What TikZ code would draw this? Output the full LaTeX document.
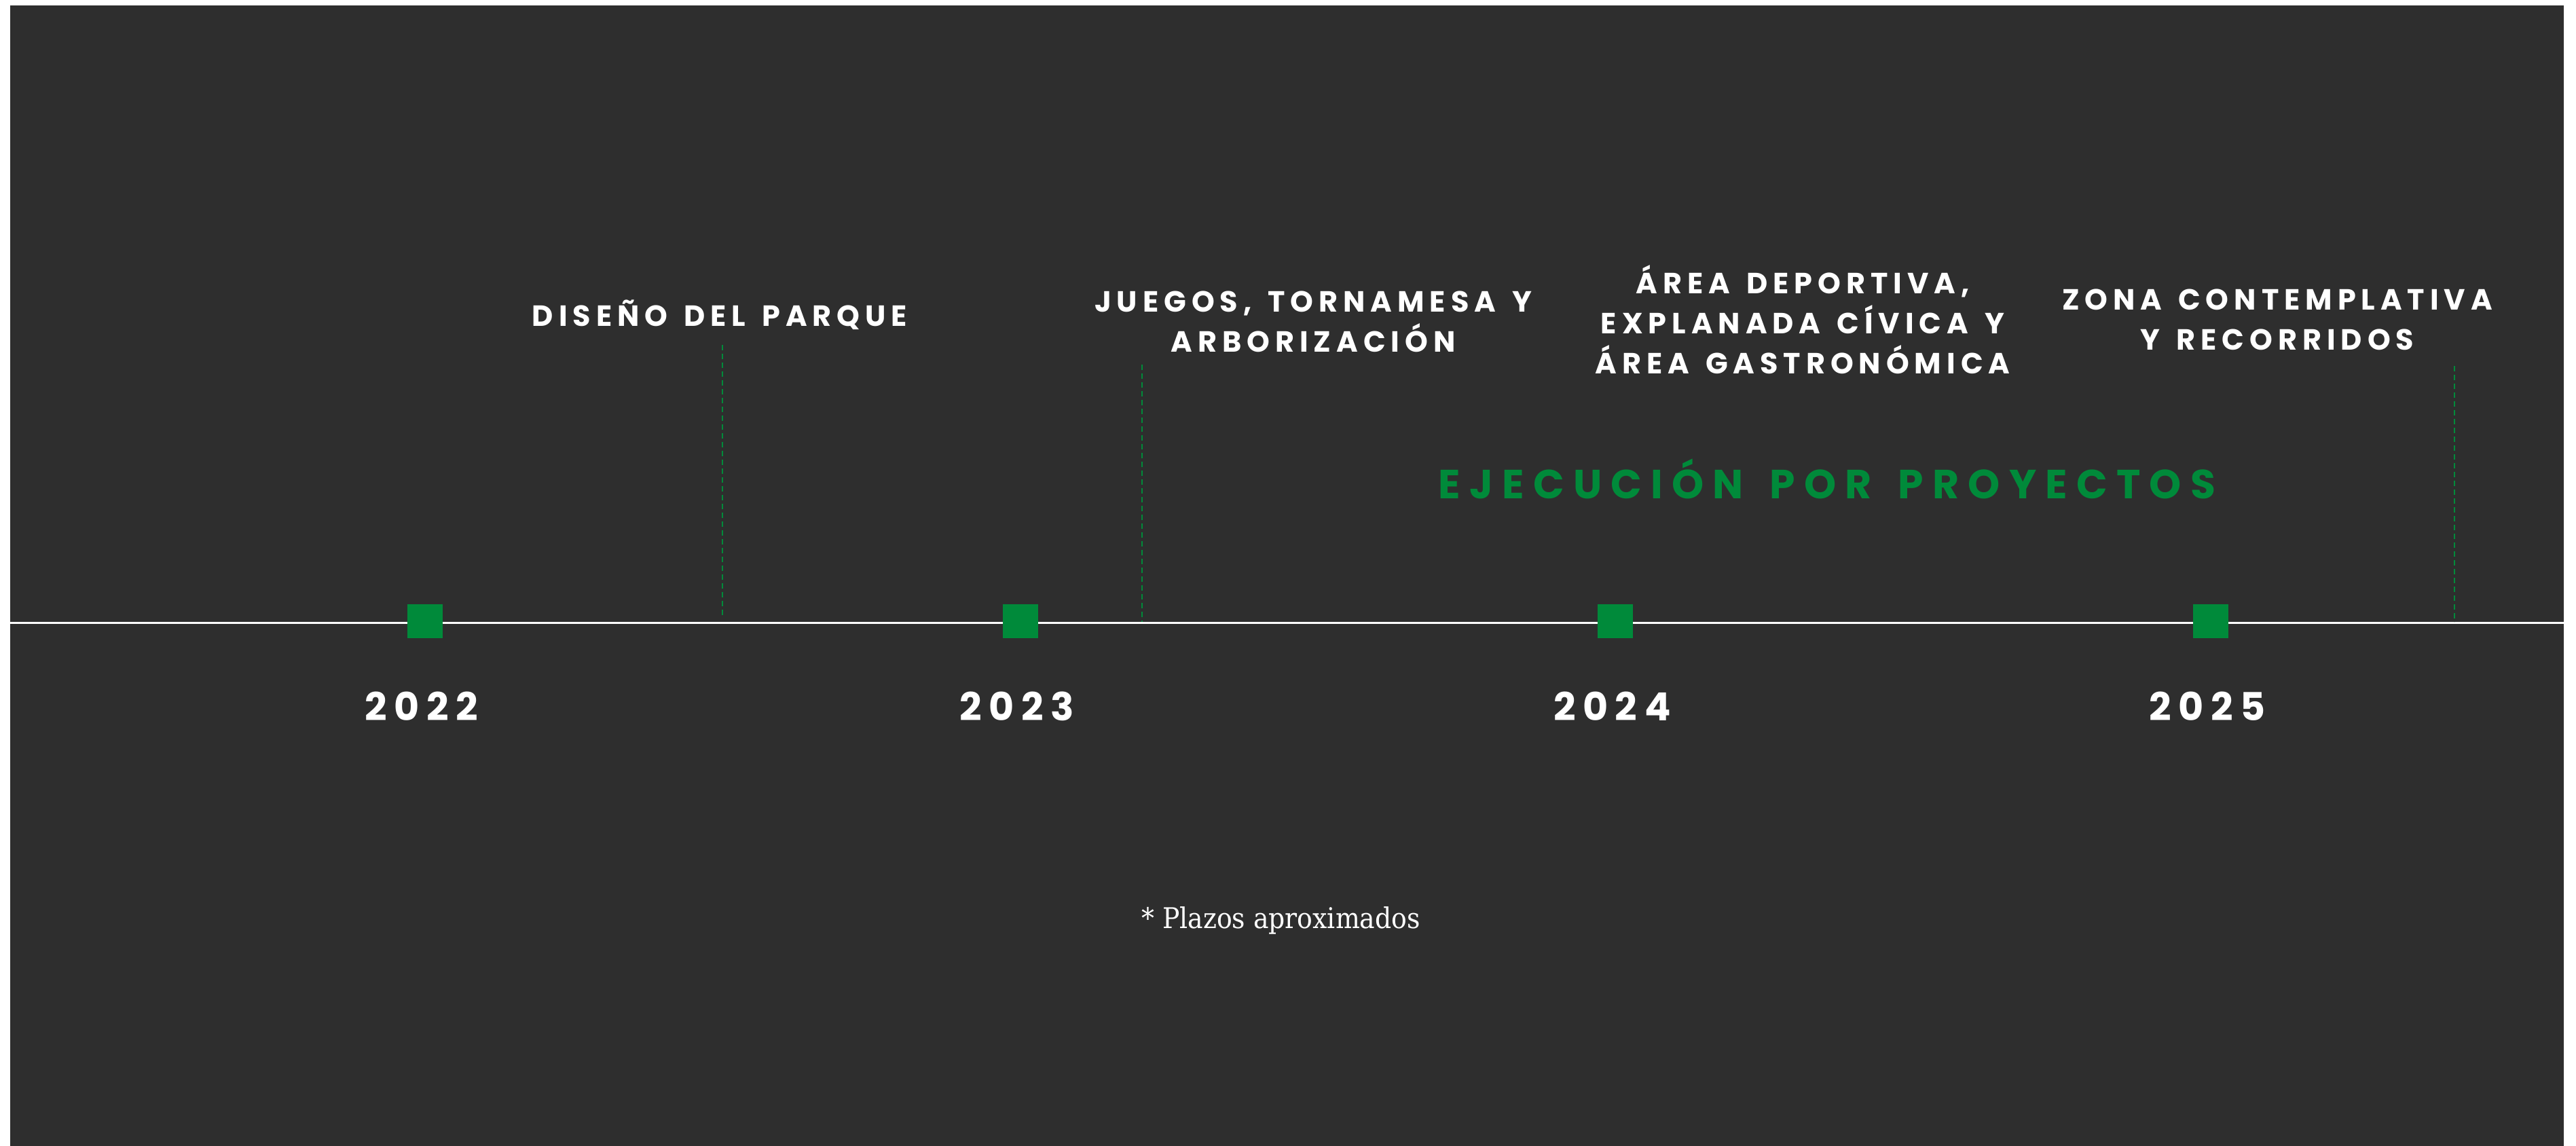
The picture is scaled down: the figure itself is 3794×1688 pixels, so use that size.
\documentclass[tikz,border=0pt]{standalone}
\usepackage{fontspec}
\setmainfont{Poppins}
\newfontfamily\headfont{Poppins}[LetterSpace=18.5,WordSpace=1.4]
\newfontfamily\titlefont{Poppins}[LetterSpace=22,WordSpace=1.5]
\newfontfamily\notefont{DejaVu Serif Condensed}
\usetikzlibrary{positioning}
\definecolor{fondo}{HTML}{2E2E2E}
\definecolor{verde}{HTML}{008A3A}

\tikzset{
	hito/.style={fill=verde, minimum width=52pt, minimum height=50pt, inner sep=0pt},
	anio/.style={text=white, inner sep=0pt, xshift=-5pt, font=\headfont\bfseries\fontsize{57}{57}\selectfont},
	etapa/.style={text=white, inner sep=0pt, align=center, anchor=base, font=\headfont\bfseries\fontsize{43}{59}\selectfont},
	titulo/.style={text=verde, inner sep=0pt, anchor=base, font=\titlefont\bfseries\fontsize{60}{60}\selectfont},
	nota/.style={text=white, inner sep=0pt, anchor=base west, font=\notefont\fontsize{42}{42}\selectfont},
	guia/.style={verde, line width=2pt, dash pattern=on 8pt off 5pt},
	eje/.style={white, line width=3pt}
}

\begin{document}
\begin{tikzpicture}[x=1pt, y=-1pt, node distance=876.7pt]
		\useasboundingbox (0,0) rectangle (3794,1688);
		\fill[fondo] (15,8) rectangle (3776,1688);

		\coordinate (ini) at (15,917);
		\coordinate (fin) at (3776,917);
		\draw[eje] (ini) -- (fin);

		% hitos sobre la linea
		\node[hito]               (h22) at (626,915) {};
		\node[hito,right of=h22]  (h23) {};
		\node[hito,right of=h23]  (h24) {};
		\node[hito,right of=h24]  (h25) {};

		% anios
		\node[anio,below of=h22,node distance=125pt] (a22) {2022};
		\node[anio,below of=h23,node distance=125pt] (a23) {2023};
		\node[anio,below of=h24,node distance=125pt] (a24) {2024};
		\node[anio,below of=h25,node distance=125pt] (a25) {2025};

		% etapas (base = ultima linea)
		\node[etapa] (diseno) at (1060,480) {DISEÑO DEL PARQUE};
		\node[etapa] (juegos) at (1934,518) {JUEGOS, TORNAMESA Y\\ARBORIZACIÓN};
		\node[etapa] (area)   at (2655,550) {ÁREA DEPORTIVA,\\EXPLANADA CÍVICA Y\\ÁREA GASTRONÓMICA};
		\node[etapa] (zona)   at (3354,515) {ZONA CONTEMPLATIVA\\Y RECORRIDOS};

		\node[titulo] (ejec) at (2691,734) {EJECUCIÓN POR PROYECTOS};
		\node[nota]   (plazos) at (1681,1367) {* Plazos aproximados};

		% guias punteadas
		\coordinate (g1a) at (1064,508);
		\coordinate (g1b) at (1064,909);
		\coordinate (g2a) at (1682,537);
		\coordinate (g2b) at (1682,916);
		\coordinate (g3a) at (3615,539);
		\coordinate (g3b) at (3615,916);
		\draw[guia] (g1a) -- (g1b);
		\draw[guia] (g2a) -- (g2b);
		\draw[guia] (g3a) -- (g3b);
	\end{tikzpicture}
\end{document}
